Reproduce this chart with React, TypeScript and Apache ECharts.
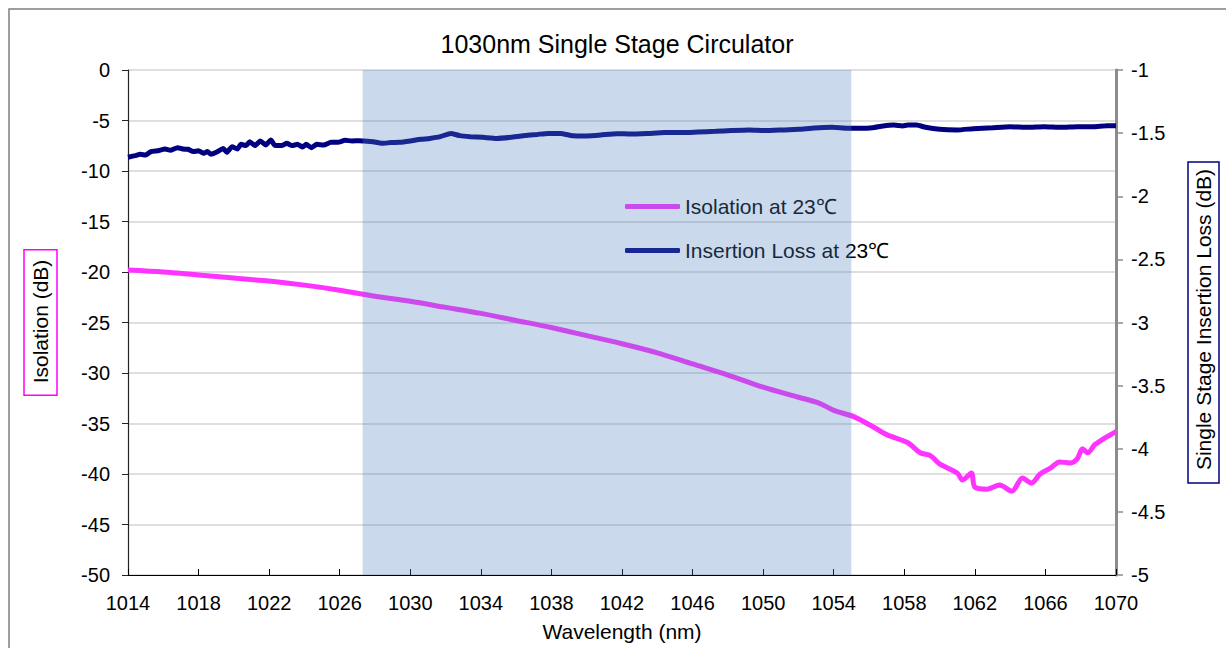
import React, { useEffect, useRef } from "react";
import * as echarts from "echarts";

const TITLE = "1030nm Single Stage Circulator";
const X_NAME = "Wavelength (nm)";
const Y_LEFT_NAME = "Isolation (dB)";
const Y_RIGHT_NAME = "Single Stage Insertion Loss (dB)";
const ISO_NAME = "Isolation at 23℃";
const IL_NAME = "Insertion Loss at 23℃";

const X_MIN = 1014;
const X_MAX = 1070;
const X_STEP = 4;
const LEFT_MIN = -50;
const LEFT_MAX = 0;
const LEFT_STEP = 5;
const RIGHT_MIN = -5;
const RIGHT_MAX = -1;
const RIGHT_STEP = 0.5;

const BAND_START = 1027.3;
const BAND_END = 1055;

const isoWavelength = [
  1014, 1016, 1018, 1020, 1022, 1024, 1026, 1028, 1030, 1032, 1034, 1036, 1038, 1040,
  1042, 1044, 1046, 1048, 1050, 1052, 1053.2, 1054, 1055.1, 1056.2, 1057, 1058.2, 1058.9,
  1059.5, 1060, 1061, 1061.3, 1061.8, 1062, 1062.7, 1063.4, 1064.1, 1064.7, 1065.2, 1065.7,
  1066.3, 1066.8, 1067.4, 1067.8, 1068.1, 1068.4, 1068.8, 1069.3, 1070,
];
const isoValue = [
  -19.8, -20.0, -20.3, -20.6, -20.9, -21.3, -21.8, -22.4, -22.9, -23.5, -24.1, -24.8, -25.5, -26.3,
  -27.1, -28.0, -29.1, -30.2, -31.4, -32.4, -33.0, -33.7, -34.3, -35.3, -36.1, -36.9, -37.9,
  -38.2, -39.0, -39.9, -40.6, -39.9, -41.3, -41.5, -41.1, -41.7, -40.4, -40.9, -40.0,
  -39.4, -38.8, -38.9, -38.5, -37.5, -37.9, -37.1, -36.5, -35.8,
];

const ilWavelength = [
  1014.0, 1014.4, 1014.7, 1015.0, 1015.3, 1015.7, 1016.1, 1016.4, 1016.8, 1017.1, 1017.4, 1017.7,
  1018.0, 1018.3, 1018.5, 1018.7, 1019.0, 1019.4, 1019.6, 1019.9, 1020.2, 1020.4, 1020.7, 1020.9,
  1021.2, 1021.5, 1021.8, 1022.1, 1022.3, 1022.7, 1023.0, 1023.3, 1023.6, 1023.9, 1024.1, 1024.4,
  1024.7, 1025.1, 1025.5, 1025.9, 1026.3, 1026.7, 1027.1, 1027.5, 1027.9, 1028.4, 1028.9, 1029.4,
  1030.0, 1030.6, 1031.1, 1031.7, 1032.3, 1032.8, 1033.4, 1034.1, 1034.9, 1035.7, 1036.4, 1037.2,
  1037.8, 1038.5, 1039.2, 1040.0, 1040.8, 1041.7, 1042.5, 1043.5, 1044.4, 1045.4, 1046.3, 1047.3,
  1048.2, 1049.2, 1050.1, 1051.1, 1052.0, 1052.9, 1053.9, 1054.8, 1055.6, 1056.2, 1056.8, 1057.4,
  1057.9, 1058.2, 1058.7, 1059.2, 1060.0, 1061.0, 1061.9, 1063.0, 1064.0, 1065.0, 1065.9, 1066.9,
  1067.8, 1068.7, 1069.5, 1070.0,
];
const ilValue = [
  -1.691, -1.678, -1.668, -1.674, -1.646, -1.639, -1.626, -1.636, -1.615, -1.626, -1.628, -1.646,
  -1.640, -1.660, -1.646, -1.668, -1.652, -1.621, -1.652, -1.607, -1.626, -1.589, -1.599, -1.568,
  -1.599, -1.562, -1.594, -1.554, -1.594, -1.599, -1.581, -1.599, -1.589, -1.610, -1.589, -1.615,
  -1.589, -1.594, -1.573, -1.573, -1.557, -1.562, -1.560, -1.564, -1.568, -1.581, -1.575, -1.573,
  -1.562, -1.549, -1.542, -1.528, -1.502, -1.520, -1.528, -1.533, -1.542, -1.533, -1.520, -1.510,
  -1.502, -1.502, -1.520, -1.522, -1.515, -1.504, -1.507, -1.502, -1.496, -1.496, -1.491, -1.486,
  -1.480, -1.475, -1.480, -1.475, -1.470, -1.459, -1.454, -1.462, -1.462, -1.457, -1.443, -1.436,
  -1.443, -1.436, -1.436, -1.454, -1.470, -1.475, -1.465, -1.457, -1.449, -1.454, -1.449, -1.454,
  -1.449, -1.449, -1.441, -1.441,
];

const FONT = "'Liberation Sans', Arial, sans-serif";

export default function App() {
  const ref = useRef<HTMLDivElement>(null);
  useEffect(() => {
    if (!ref.current) return;
    const chart = echarts.init(ref.current, null, { renderer: "svg" });
    const isoData = isoWavelength.map((x, i) => [x, isoValue[i]]);
    const ilData = ilWavelength.map((x, i) => [x, ilValue[i]]);
    chart.setOption({
      animation: false,
      textStyle: { fontFamily: FONT },
      title: {
        text: TITLE,
        left: "center",
        top: 23,
        padding: 0,
        textStyle: { fontSize: 25, fontWeight: "normal", color: "#000", fontFamily: FONT },
      },
      graphic: [
        {
          type: "rect",
          x: 1,
          y: 1,
          shape: { width: 1300, height: 800 },
          style: { fill: "none", stroke: "#7f7f7f", lineWidth: 1.5 },
          silent: true,
          z: -10,
        },
      ],
      grid: {
        left: 120,
        top: 62,
        width: 988,
        height: 505,
        containLabel: false,
        outerBoundsMode: "none",
      },
      legend: {
        orient: "vertical",
        left: 612,
        top: 183,
        itemGap: 23,
        itemWidth: 55,
        itemHeight: 5,
        icon: "roundRect",
        data: [ISO_NAME, IL_NAME],
        textStyle: { fontSize: 21, color: "#000", fontFamily: FONT, padding: [0, 0, 0, 0] },
      },
      xAxis: {
        type: "value",
        min: X_MIN,
        max: X_MAX,
        interval: X_STEP,
        name: X_NAME,
        nameLocation: "middle",
        nameGap: 46,
        nameTextStyle: { fontSize: 21, color: "#000", fontFamily: FONT },
        axisLine: { show: true, onZero: false, lineStyle: { color: "#000", width: 1.2 } },
        axisTick: { show: true, inside: true, length: 6, lineStyle: { color: "#000" } },
        axisLabel: { fontSize: 20, color: "#000", margin: 18, fontFamily: FONT, formatter: (v: number) => String(v) },
        splitLine: { show: false },
      },
      yAxis: [
        {
          type: "value",
          min: LEFT_MIN,
          max: LEFT_MAX,
          interval: LEFT_STEP,
          position: "left",
          name: Y_LEFT_NAME,
          nameLocation: "middle",
          nameGap: 71,
          nameTextStyle: {
            fontSize: 21,
            color: "#000",
            fontFamily: FONT,
            borderColor: "#ff00ff",
            borderWidth: 1.5,
            padding: [6, 10, 6, 12],
          },
          axisLine: { show: true, onZero: false, lineStyle: { color: "#222", width: 1.2 } },
          axisTick: { show: true, inside: false, length: 6, lineStyle: { color: "#222" } },
          axisLabel: { fontSize: 20, color: "#000", margin: 18, fontFamily: FONT, formatter: (v: number) => String(v) },
          splitLine: { show: true, lineStyle: { color: "#d4d4d4", width: 1.5 } },
        },
        {
          type: "value",
          min: RIGHT_MIN,
          max: RIGHT_MAX,
          interval: RIGHT_STEP,
          position: "right",
          name: Y_RIGHT_NAME,
          nameLocation: "middle",
          nameRotate: 90,
          nameGap: 72,
          nameTextStyle: {
            fontSize: 21,
            color: "#000",
            fontFamily: FONT,
            borderColor: "#000080",
            borderWidth: 1.5,
            padding: [5, 7, 5, 13],
          },
          axisLine: { show: true, onZero: false, lineStyle: { color: "#8c8c8c", width: 3 } },
          axisTick: { show: true, inside: false, length: 7, lineStyle: { color: "#8c8c8c", width: 1.5 } },
          axisLabel: { fontSize: 20, color: "#000", margin: 15, fontFamily: FONT, formatter: (v: number) => String(v) },
          splitLine: { show: false },
        },
      ],
      series: [
        {
          name: ISO_NAME,
          type: "line",
          yAxisIndex: 0,
          data: isoData,
          smooth: 0.3,
          showSymbol: false,
          symbol: "none",
          lineStyle: { color: "#ff33ff", width: 5 },
          itemStyle: { color: "#ff33ff" },
          z: 3,
        },
        {
          name: IL_NAME,
          type: "line",
          yAxisIndex: 1,
          data: ilData,
          smooth: 0.15,
          showSymbol: false,
          symbol: "none",
          lineStyle: { color: "#000080", width: 5 },
          itemStyle: { color: "#000080" },
          z: 4,
        },
        {
          name: "band",
          type: "line",
          yAxisIndex: 0,
          data: [],
          z: 10,
          markArea: {
            silent: true,
            z: 10,
            itemStyle: { color: "rgba(79,129,189,0.3)" },
            data: [[{ xAxis: BAND_START }, { xAxis: BAND_END }]],
          },
        },
      ],
    });
    return () => chart.dispose();
  }, []);
  return (
    <div style={{ position: "absolute", left: 8, top: 8, width: 1218, height: 640, overflow: "hidden" }}>
      <div ref={ref} style={{ width: 1218, height: 640 }} />
    </div>
  );
}
